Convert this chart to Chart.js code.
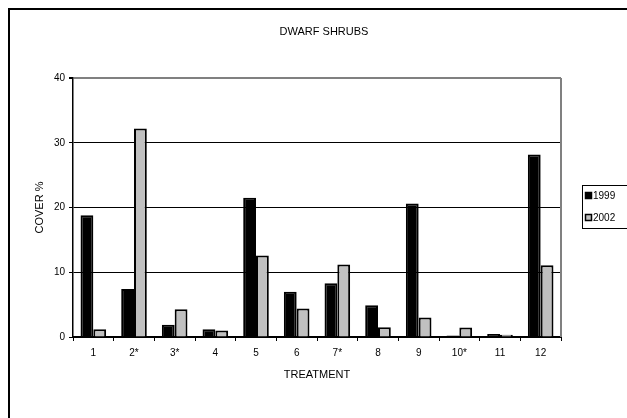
<!DOCTYPE html>
<html>
<head>
<meta charset="utf-8">
<script src="https://cdn.jsdelivr.net/npm/chart.js@4"></script>
<style>
  body { margin: 0; background: #fff; }
  canvas { display: block; }
</style>
</head>
<body>
<canvas id="myChart" width="627" height="418"></canvas>
<script>
const treatments = ['1', '2*', '3*', '4', '5', '6', '7*', '8', '9', '10*', '11', '12'];
const cover1999 = [18.8, 7.4, 1.9, 1.2, 21.5, 7.0, 8.3, 4.9, 20.6, 0.25, 0.45, 28.2];
const cover2002 = [1.2, 32.2, 4.3, 1.0, 12.6, 4.4, 11.2, 1.5, 3.0, 1.45, 0.35, 11.1];
const yTicks = [0, 10, 20, 30, 40];

Chart.defaults.font.family = '"Liberation Sans", Arial, sans-serif';
Chart.defaults.color = '#000';

// outer frame + plot border (right grey) + legend box
const decor = {
  id: 'decor',
  beforeDraw(chart) {
    const c = chart.ctx;
    c.save();
    c.fillStyle = '#fff';
    c.fillRect(0, 0, chart.width, chart.height);
    c.restore();
  },
  afterDraw(chart) {
    const c = chart.ctx;
    const a = chart.chartArea;
    c.save();
    // frame round the whole chart
    c.strokeStyle = '#000';
    c.lineWidth = 2;
    c.beginPath();
    c.moveTo(9, 419);
    c.lineTo(9, 9);
    c.lineTo(628, 9);
    c.stroke();
    // grey right border of plot area
    c.strokeStyle = '#808080';
    c.lineWidth = 2;
    c.beginPath();
    c.moveTo(a.right, a.top);
    c.lineTo(a.right, a.bottom);
    c.stroke();
    // legend
    c.strokeStyle = '#000';
    c.lineWidth = 1;
    c.strokeRect(582.5, 185.5, 60, 43);
    c.font = '10px "Liberation Sans", Arial, sans-serif';
    c.textBaseline = 'middle';
    chart.data.datasets.forEach((ds, i) => {
      const y = 196 + i * 22;
      c.fillStyle = ds.backgroundColor;
      c.fillRect(585, y - 4, 7, 7);
      c.strokeStyle = '#000';
      c.lineWidth = 1.5;
      c.strokeRect(585.5, y - 3.5, 6, 6);
      c.fillStyle = '#000';
      c.fillText(ds.label, 593, y);
    });
    c.restore();
  }
};

const ctx = document.getElementById('myChart');
const dataset = {
  labels: treatments,
  datasets: [{
      label: '1999',
      data: cover1999,
      backgroundColor: '#000000',
      borderColor: '#000000',
      borderWidth: 2
  }, {
      label: '2002',
      data: cover2002,
      backgroundColor: '#c0c0c0',
      borderColor: '#000000',
      borderWidth: 2
  }]
};
const config = {
  type: 'bar',
  data: dataset,
  plugins: [decor],
  options: {
    responsive: false,
    animation: false,
    layout: { padding: { top: 19, right: 0, bottom: 31, left: 21 } },
    datasets: { bar: { categoryPercentage: 0.63, barPercentage: 1 } },
    plugins: {
      legend: { display: false },
      tooltip: { enabled: false },
      title: {
        display: true,
        text: 'DWARF SHRUBS',
        font: { size: 11, weight: 'normal' },
        color: '#000',
        padding: { top: 6.4, bottom: 39.4 }
      }
    },
    scales: {
      x: {
        grid: {
          offset: true,
          drawOnChartArea: false,
          drawTicks: true,
          tickLength: 4,
          color: '#000',
          lineWidth: 1
        },
        border: { color: '#000', width: 2 },
        ticks: { padding: 6, font: { size: 10 }, maxRotation: 0 },
        title: {
          display: true,
          text: 'TREATMENT',
          font: { size: 11 },
          padding: { top: 0, bottom: 5.6 }
        },
        afterFit: (scale) => { scale.height = 50; }
      },
      y: {
        min: 0,
        max: 40,
        afterBuildTicks: (scale) => { scale.ticks = yTicks.map(v => ({ value: v })); },
        grid: {
          color: (c) => c.tick && c.tick.value === 40 ? '#808080' : '#000',
          lineWidth: (c) => c.tick && c.tick.value === 40 ? 2 : 1,
          tickColor: '#000',
          tickLength: 4
        },
        border: { color: '#000', width: 1.5 },
        ticks: { padding: 4, font: { size: 10 } },
        title: {
          display: true,
          text: 'COVER %',
          font: { size: 11 },
          padding: { top: 12.4, bottom: 0 }
        },
        afterFit: (scale) => { scale.width = 52; }
      },
      // empty right-hand space where the legend sits
      side: {
        position: 'right',
        grid: { display: false },
        border: { display: false },
        ticks: { display: false },
        afterFit: (scale) => { scale.width = 66; }
      }
    }
  }
};
const chart = new Chart(ctx, config);
</script>
</body>
</html>
